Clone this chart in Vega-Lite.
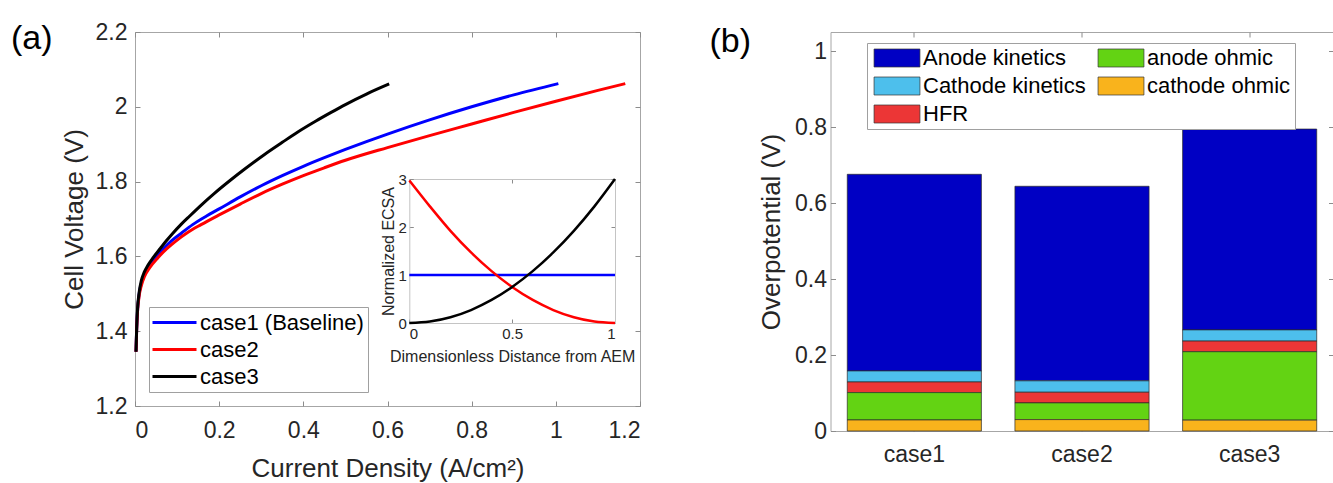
{
  "$schema": "https://vega.github.io/schema/vega-lite/v6.json",
  "padding": {"left": 10, "top": 20, "right": 0, "bottom": 0},
  "background": "#ffffff",
  "datasets": {
    "curves": [
      {"case": "case1 (Baseline)", "i": 0.0024, "V": 1.345},
      {"case": "case1 (Baseline)", "i": 0.004, "V": 1.408},
      {"case": "case1 (Baseline)", "i": 0.006, "V": 1.455},
      {"case": "case1 (Baseline)", "i": 0.01, "V": 1.5},
      {"case": "case1 (Baseline)", "i": 0.015, "V": 1.528},
      {"case": "case1 (Baseline)", "i": 0.022, "V": 1.551},
      {"case": "case1 (Baseline)", "i": 0.03, "V": 1.567},
      {"case": "case1 (Baseline)", "i": 0.047, "V": 1.594},
      {"case": "case1 (Baseline)", "i": 0.065, "V": 1.618},
      {"case": "case1 (Baseline)", "i": 0.086, "V": 1.641},
      {"case": "case1 (Baseline)", "i": 0.11, "V": 1.662},
      {"case": "case1 (Baseline)", "i": 0.137, "V": 1.685},
      {"case": "case1 (Baseline)", "i": 0.17, "V": 1.708},
      {"case": "case1 (Baseline)", "i": 0.2, "V": 1.727},
      {"case": "case1 (Baseline)", "i": 0.25, "V": 1.759},
      {"case": "case1 (Baseline)", "i": 0.3, "V": 1.789},
      {"case": "case1 (Baseline)", "i": 0.35, "V": 1.816},
      {"case": "case1 (Baseline)", "i": 0.4, "V": 1.841},
      {"case": "case1 (Baseline)", "i": 0.45, "V": 1.864},
      {"case": "case1 (Baseline)", "i": 0.5, "V": 1.886},
      {"case": "case1 (Baseline)", "i": 0.55, "V": 1.907},
      {"case": "case1 (Baseline)", "i": 0.6, "V": 1.927},
      {"case": "case1 (Baseline)", "i": 0.7, "V": 1.965},
      {"case": "case1 (Baseline)", "i": 0.8, "V": 2.0},
      {"case": "case1 (Baseline)", "i": 0.9, "V": 2.032},
      {"case": "case1 (Baseline)", "i": 1.006, "V": 2.062},
      {"case": "case2", "i": 0.0024, "V": 1.345},
      {"case": "case2", "i": 0.004, "V": 1.405},
      {"case": "case2", "i": 0.006, "V": 1.452},
      {"case": "case2", "i": 0.01, "V": 1.495},
      {"case": "case2", "i": 0.015, "V": 1.522},
      {"case": "case2", "i": 0.022, "V": 1.545},
      {"case": "case2", "i": 0.035, "V": 1.57},
      {"case": "case2", "i": 0.054, "V": 1.596},
      {"case": "case2", "i": 0.075, "V": 1.62},
      {"case": "case2", "i": 0.097, "V": 1.641},
      {"case": "case2", "i": 0.125, "V": 1.664},
      {"case": "case2", "i": 0.157, "V": 1.685},
      {"case": "case2", "i": 0.2, "V": 1.711},
      {"case": "case2", "i": 0.25, "V": 1.74},
      {"case": "case2", "i": 0.3, "V": 1.768},
      {"case": "case2", "i": 0.35, "V": 1.793},
      {"case": "case2", "i": 0.4, "V": 1.816},
      {"case": "case2", "i": 0.45, "V": 1.837},
      {"case": "case2", "i": 0.5, "V": 1.857},
      {"case": "case2", "i": 0.6, "V": 1.891},
      {"case": "case2", "i": 0.7, "V": 1.923},
      {"case": "case2", "i": 0.8, "V": 1.954},
      {"case": "case2", "i": 0.9, "V": 1.985},
      {"case": "case2", "i": 1.0, "V": 2.015},
      {"case": "case2", "i": 1.1, "V": 2.044},
      {"case": "case2", "i": 1.165, "V": 2.062},
      {"case": "case3", "i": 0.0024, "V": 1.345},
      {"case": "case3", "i": 0.004, "V": 1.41},
      {"case": "case3", "i": 0.006, "V": 1.46},
      {"case": "case3", "i": 0.01, "V": 1.505},
      {"case": "case3", "i": 0.015, "V": 1.535},
      {"case": "case3", "i": 0.022, "V": 1.558},
      {"case": "case3", "i": 0.03, "V": 1.575},
      {"case": "case3", "i": 0.044, "V": 1.598},
      {"case": "case3", "i": 0.06, "V": 1.621},
      {"case": "case3", "i": 0.074, "V": 1.641},
      {"case": "case3", "i": 0.09, "V": 1.662},
      {"case": "case3", "i": 0.109, "V": 1.685},
      {"case": "case3", "i": 0.13, "V": 1.708},
      {"case": "case3", "i": 0.16, "V": 1.74},
      {"case": "case3", "i": 0.188, "V": 1.768},
      {"case": "case3", "i": 0.228, "V": 1.805},
      {"case": "case3", "i": 0.26, "V": 1.833},
      {"case": "case3", "i": 0.307, "V": 1.872},
      {"case": "case3", "i": 0.35, "V": 1.905},
      {"case": "case3", "i": 0.386, "V": 1.932},
      {"case": "case3", "i": 0.43, "V": 1.962},
      {"case": "case3", "i": 0.466, "V": 1.985},
      {"case": "case3", "i": 0.5, "V": 2.006},
      {"case": "case3", "i": 0.55, "V": 2.034},
      {"case": "case3", "i": 0.604, "V": 2.061}
    ],
    "inset": [
      {"case": "case1 (Baseline)", "d": 0, "ecsa": 1},
      {"case": "case1 (Baseline)", "d": 0.5, "ecsa": 1},
      {"case": "case1 (Baseline)", "d": 1, "ecsa": 1},
      {"case": "case2", "d": 0, "ecsa": 2.97},
      {"case": "case2", "d": 0.1, "ecsa": 2.43},
      {"case": "case2", "d": 0.2, "ecsa": 1.92},
      {"case": "case2", "d": 0.3, "ecsa": 1.47},
      {"case": "case2", "d": 0.4, "ecsa": 1.08},
      {"case": "case2", "d": 0.5, "ecsa": 0.75},
      {"case": "case2", "d": 0.6, "ecsa": 0.48},
      {"case": "case2", "d": 0.7, "ecsa": 0.27},
      {"case": "case2", "d": 0.8, "ecsa": 0.12},
      {"case": "case2", "d": 0.9, "ecsa": 0.03},
      {"case": "case2", "d": 1, "ecsa": 0},
      {"case": "case3", "d": 0, "ecsa": 0},
      {"case": "case3", "d": 0.1, "ecsa": 0.03},
      {"case": "case3", "d": 0.2, "ecsa": 0.12},
      {"case": "case3", "d": 0.3, "ecsa": 0.27},
      {"case": "case3", "d": 0.4, "ecsa": 0.48},
      {"case": "case3", "d": 0.5, "ecsa": 0.75},
      {"case": "case3", "d": 0.6, "ecsa": 1.08},
      {"case": "case3", "d": 0.7, "ecsa": 1.47},
      {"case": "case3", "d": 0.8, "ecsa": 1.92},
      {"case": "case3", "d": 0.9, "ecsa": 2.43},
      {"case": "case3", "d": 1, "ecsa": 3}
    ],
    "bars": [
      {"case": "case1", "component": "Anode kinetics", "value": 0.5175},
      {"case": "case1", "component": "Cathode kinetics", "value": 0.029},
      {"case": "case1", "component": "HFR", "value": 0.028},
      {"case": "case1", "component": "anode ohmic", "value": 0.072},
      {"case": "case1", "component": "cathode ohmic", "value": 0.029},
      {"case": "case2", "component": "Anode kinetics", "value": 0.512},
      {"case": "case2", "component": "Cathode kinetics", "value": 0.03},
      {"case": "case2", "component": "HFR", "value": 0.028},
      {"case": "case2", "component": "anode ohmic", "value": 0.044},
      {"case": "case2", "component": "cathode ohmic", "value": 0.03},
      {"case": "case3", "component": "Anode kinetics", "value": 0.5286},
      {"case": "case3", "component": "Cathode kinetics", "value": 0.0294},
      {"case": "case3", "component": "HFR", "value": 0.028},
      {"case": "case3", "component": "anode ohmic", "value": 0.18},
      {"case": "case3", "component": "cathode ohmic", "value": 0.0286}
    ]
  },
  "hconcat": [
    {
      "width": 505,
      "height": 374,
      "title": {"text": "(a)", "anchor": "start", "frame": "group", "dx": -124, "offset": 0, "dy": 62, "baseline": "alphabetic", "fontSize": 34},
      "layer": [
        {
          "data": {"name": "curves"},
          "mark": {"type": "line", "strokeWidth": 3, "interpolate": "monotone"},
          "encoding": {
            "x": {"field": "i", "type": "quantitative",
              "scale": {"domain": [0, 1.2], "nice": false, "zero": false},
              "axis": {"orient": "bottom", "title": "Current Density (A/cm²)", "values": [0, 0.2, 0.4, 0.6, 0.8, 1, 1.2], "format": "~g", "labelPadding": 18, "titlePadding": 13}},
            "y": {"field": "V", "type": "quantitative",
              "scale": {"domain": [1.2, 2.2], "nice": false, "zero": false},
              "axis": {"orient": "left", "title": "Cell Voltage (V)", "values": [1.2, 1.4, 1.6, 1.8, 2, 2.2], "format": "~g", "labelPadding": 13, "titlePadding": 8}},
            "color": {"field": "case", "type": "nominal",
              "scale": {"domain": ["case1 (Baseline)", "case2", "case3"], "range": ["#0000FF", "#FF0000", "#000000"]},
              "legend": {"title": null, "orient": "bottom-left", "offset": 14, "symbolType": "M-2.2,0H2.2", "symbolSize": 400, "symbolOffset": 10, "symbolStrokeWidth": 3, "labelFontSize": 22, "labelColor": "#000000", "fillColor": "#ffffff", "strokeColor": "#a0a0a0", "padding": 4, "rowPadding": 4, "labelOffset": 14, "labelLimit": 400}}
          }
        },
        {
          "data": {"name": "curves"},
          "mark": {"type": "point", "opacity": 0},
          "encoding": {
            "x": {"field": "i", "type": "quantitative",
              "scale": {"domain": [0, 1.2], "nice": false, "zero": false},
              "axis": {"orient": "top", "title": null, "labels": false, "values": [0, 0.2, 0.4, 0.6, 0.8, 1, 1.2]}},
            "y": {"field": "V", "type": "quantitative",
              "scale": {"domain": [1.2, 2.2], "nice": false, "zero": false},
              "axis": {"orient": "right", "title": null, "labels": false, "values": [1.2, 1.4, 1.6, 1.8, 2, 2.2]}}
          }
        },
        {
          "data": {"name": "inset"},
          "mark": {"type": "line", "strokeWidth": 2.5, "interpolate": "monotone"},
          "encoding": {
            "x": {"field": "d", "type": "quantitative",
              "scale": {"domain": [0, 1], "range": [274.3, 480], "nice": false, "zero": false},
              "axis": {"orient": "bottom", "offset": -83, "title": "Dimensionless Distance from AEM", "values": [0, 0.5, 1], "format": "~g", "domain": true, "domainColor": "#c4c4c4", "tickSize": -4, "labelFontSize": 15, "titleFontSize": 16, "labelPadding": 7, "titlePadding": 7}},
            "y": {"field": "ecsa", "type": "quantitative",
              "scale": {"domain": [0, 3], "range": [291, 147], "nice": false, "zero": false},
              "axis": {"orient": "left", "offset": -274.3, "title": "Normalized ECSA", "values": [0, 1, 2, 3], "format": "~g", "domain": true, "domainColor": "#c4c4c4", "tickSize": -4, "labelFontSize": 15, "titleFontSize": 16, "labelPadding": 7, "titlePadding": 1}},
            "color": {"field": "case", "type": "nominal"}
          }
        },
        {
          "data": {"name": "inset"},
          "mark": {"type": "point", "opacity": 0},
          "encoding": {
            "x": {"field": "d", "type": "quantitative",
              "scale": {"domain": [0, 1], "range": [274.3, 480], "nice": false, "zero": false},
              "axis": {"orient": "top", "offset": -147, "title": null, "labels": false, "values": [0, 0.5, 1], "domain": true, "domainColor": "#c4c4c4", "tickSize": -4}},
            "y": {"field": "ecsa", "type": "quantitative",
              "scale": {"domain": [0, 3], "range": [291, 147], "nice": false, "zero": false},
              "axis": {"orient": "right", "offset": -25, "title": null, "labels": false, "values": [0, 1, 2, 3], "domain": true, "domainColor": "#c4c4c4", "tickSize": -4}}
          }
        }
      ],
      "resolve": {"scale": {"x": "independent", "y": "independent"}, "axis": {"x": "independent", "y": "independent"}}
    },
    {
      "width": 503,
      "height": 399,
      "title": {"text": "(b)", "anchor": "start", "frame": "group", "dx": -121, "offset": 0, "dy": 54, "baseline": "alphabetic", "fontSize": 34},
      "data": {"name": "bars"},
      "layer": [
        {
          "mark": {"type": "bar", "stroke": "#2a2a2a", "strokeWidth": 0.7},
          "encoding": {
            "x": {"field": "case", "type": "nominal",
              "scale": {"paddingInner": 0.2, "paddingOuter": 0.1},
              "axis": {"orient": "bottom", "title": null, "labelAngle": 0, "labelPadding": 17}},
            "y": {"field": "value", "type": "quantitative", "stack": "zero",
              "scale": {"domain": [0, 1.05], "nice": false},
              "axis": {"orient": "left", "title": "Overpotential (V)", "values": [0, 0.2, 0.4, 0.6, 0.8, 1], "format": "~g", "labelPadding": 9, "titlePadding": 10}},
            "color": {"field": "component", "type": "nominal",
              "scale": {"domain": ["Anode kinetics", "Cathode kinetics", "HFR", "anode ohmic", "cathode ohmic"], "range": ["#0000C4", "#4DBFEC", "#EC3636", "#63D313", "#F9B31C"]},
              "legend": {"title": null, "orient": "none", "legendX": 36.5, "legendY": 11, "columns": 2, "symbolType": "M-2.55,-1H2.55V1H-2.55Z", "symbolSize": 324, "symbolOffset": 15, "symbolStrokeColor": "#333333", "symbolStrokeWidth": 0.7, "symbolOpacity": 1, "labelFontSize": 22, "labelColor": "#000000", "fillColor": "#ffffff", "strokeColor": "#a0a0a0", "padding": 4, "rowPadding": 6, "columnPadding": 9, "labelOffset": 15, "labelLimit": 400}},
            "order": {"field": "component", "sort": "descending"}
          }
        },
        {
          "mark": {"type": "point", "opacity": 0},
          "encoding": {
            "x": {"field": "case", "type": "nominal",
              "axis": {"orient": "top", "title": null, "labels": false}},
            "y": {"field": "value", "type": "quantitative",
              "axis": {"orient": "right", "title": null, "labels": false, "values": [0, 0.2, 0.4, 0.6, 0.8, 1]}}
          }
        }
      ],
      "resolve": {"axis": {"x": "independent", "y": "independent"}}
    }
  ],
  "resolve": {"scale": {"color": "independent"}, "legend": {"color": "independent"}},
  "bounds": "flush",
  "spacing": 190.5,
  "config": {
    "font": "Liberation Sans",
    "view": {"stroke": "#a6a6a6", "strokeWidth": 1},
    "axis": {
      "labelFont": "Liberation Sans", "titleFont": "Liberation Sans",
      "labelColor": "#262626", "titleColor": "#262626",
      "labelFontSize": 23, "titleFontSize": 26, "titleFontWeight": "normal",
      "tickColor": "#8c8c8c", "tickSize": -5, "domain": false, "grid": false
    },
    "legend": {"labelFont": "Liberation Sans"},
    "title": {"font": "Liberation Sans", "fontWeight": "normal", "color": "#000000"}
  }
}
